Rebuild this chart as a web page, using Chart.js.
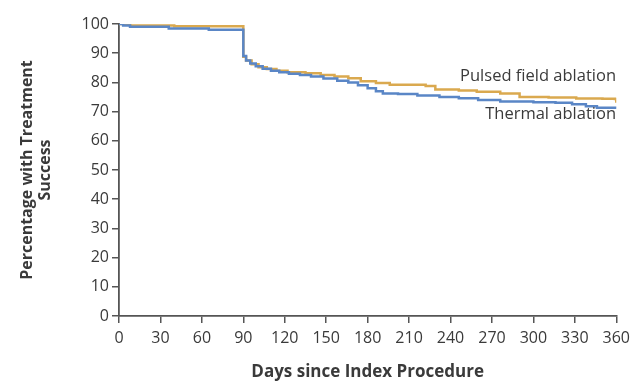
<!DOCTYPE html>
<html>
<head>
<meta charset="utf-8">
<script src="https://cdn.jsdelivr.net/npm/chart.js@4"></script>
<style>
  html, body { margin: 0; padding: 0; background: #ffffff; }
  #wrap { width: 636px; height: 385px; }
</style>
</head>
<body>
<div id="wrap"><canvas id="kmChart" width="636" height="385"></canvas></div>
<script>
"use strict";

// Kaplan-Meier style curves (day, percent)
const thermalDays   = [0, 3, 8, 36, 65, 90, 92, 95, 99, 104, 110, 116, 123, 131, 139, 148, 158, 166, 173, 180, 186, 191, 202, 216, 232, 246, 260, 276, 300, 316, 328, 338, 346, 360];
const thermalValues = [100, 99.5, 99.1, 98.5, 98.0, 89.0, 87.5, 86.5, 85.5, 84.7, 84.0, 83.5, 83.0, 82.5, 82.0, 81.3, 80.6, 80.0, 79.0, 78.0, 77.0, 76.2, 76.0, 75.5, 75.0, 74.6, 74.0, 73.5, 73.2, 73.0, 72.5, 71.8, 71.3, 71.0];

const pfaDays   = [0, 8, 40, 90, 92, 96, 101, 107, 114, 122, 135, 146, 156, 166, 175, 186, 196, 222, 229, 246, 259, 276, 290, 311, 331, 350, 359, 360];
const pfaValues = [100, 99.5, 99.2, 88.8, 87.5, 86.2, 85.2, 84.6, 84.0, 83.5, 83.1, 82.5, 82.0, 81.4, 80.4, 79.8, 79.2, 78.8, 77.6, 77.2, 76.8, 76.2, 75.0, 74.8, 74.5, 74.4, 74.3, 73.0];

const seriesNames = ["Thermal ablation", "Pulsed field ablation"];
const xTicks = [0, 30, 60, 90, 120, 150, 180, 210, 240, 270, 300, 330, 360];
const yTicks = [0, 10, 20, 30, 40, 50, 60, 70, 80, 90, 100];

const toPoints = (days, values) => days.map((d, i) => ({ x: d, y: values[i] }));

const textColor = "#3a3a3a";
const axisColor = "#555555";
const fontFamily = "'Open Sans', 'DejaVu Sans', sans-serif";

// curve labels placed at the right end of the plot
const curveLabels = {
  id: "curveLabels",
  afterDatasetsDraw(chart) {
    const { ctx, scales: { x, y } } = chart;
    ctx.save();
    ctx.font = "16.5px " + fontFamily;
    ctx.fillStyle = textColor;
    ctx.textAlign = "right";
    ctx.textBaseline = "alphabetic";
    ctx.fillText(seriesNames[1], x.getPixelForValue(359.8), y.getPixelForValue(80.6));
    ctx.fillText(seriesNames[0], x.getPixelForValue(359.8), y.getPixelForValue(67.4));
    ctx.restore();
  }
};

new Chart(document.getElementById("kmChart").getContext("2d"), {
  type: "line",
  data: {
    datasets: [
      {
        label: seriesNames[0],
        data: toPoints(thermalDays, thermalValues),
        borderColor: "#5a86c6",
        borderWidth: 2.5,
        stepped: true,
        pointRadius: 0,
        fill: false
      },
      {
        label: seriesNames[1],
        data: toPoints(pfaDays, pfaValues),
        borderColor: "#daa94f",
        borderWidth: 2.5,
        stepped: true,
        pointRadius: 0,
        fill: false
      }
    ]
  },
  options: {
    responsive: false,
    animation: false,
    layout: { padding: { top: 24, right: 16, bottom: 0, left: 0 } },
    plugins: {
      legend: { display: false },
      tooltip: { enabled: false }
    },
    scales: {
      x: {
        type: "linear",
        min: 0,
        max: 360,
        afterBuildTicks: axis => { axis.ticks = xTicks.map(v => ({ value: v })); },
        afterFit: axis => { axis.height = 69; },
        grid: { display: true, drawOnChartArea: false, drawTicks: true, tickLength: 7, color: axisColor, lineWidth: 1.5 },
        border: { display: true, color: axisColor, width: 1.8 },
        ticks: { color: textColor, padding: 6, maxRotation: 0, font: { family: fontFamily, size: 16 } },
        title: {
          display: true,
          text: "Days since Index Procedure",
          color: textColor,
          padding: { top: 0, bottom: 3 },
          font: { family: fontFamily, size: 17, weight: "bold" }
        }
      },
      y: {
        min: 0,
        max: 100,
        afterBuildTicks: axis => { axis.ticks = yTicks.map(v => ({ value: v })); },
        afterFit: axis => { axis.width = 119; },
        grid: { display: true, drawOnChartArea: false, drawTicks: true, tickLength: 7, color: axisColor, lineWidth: 1.5 },
        border: { display: true, color: axisColor, width: 1.8 },
        ticks: { color: textColor, padding: 3, font: { family: fontFamily, size: 16 } },
        title: {
          display: true,
          text: ["Percentage with Treatment", "Success"],
          color: textColor,
          padding: { top: 19, bottom: 0 },
          font: { family: fontFamily, size: 16, weight: "bold", lineHeight: 1.1 }
        }
      }
    }
  },
  plugins: [curveLabels]
});
</script>
</body>
</html>
